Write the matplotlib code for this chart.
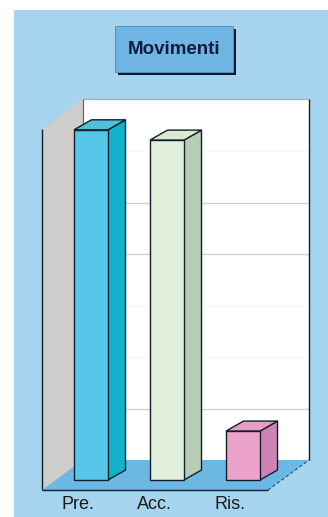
import matplotlib
matplotlib.use("Agg")
import matplotlib.pyplot as plt
from matplotlib.patches import Polygon, Rectangle
from matplotlib.transforms import ScaledTranslation

categories = ["Pre.", "Acc.", "Ris."]
values = [6.8, 6.6, 0.95]
front_colors = ["#55c5e8", "#e2efdc", "#eba3c9"]
side_colors = ["#10b2cc", "#b7cdb4", "#cf82b4"]
top_colors = ["#4fbfd8", "#dce8d2", "#ea9cc6"]
strong_grid = [1, 4, 5]
faint_grid = [2, 3, 6]
wall_top = 7

W, H = 328, 517
plt.rcParams["font.family"] = ["Liberation Sans", "DejaVu Sans"]
fig = plt.figure(figsize=(W / 100, H / 100), dpi=100, facecolor="white")

def fx(p): return p / W
def fy(p): return 1 - p / H

fig.add_artist(Rectangle((fx(14), 0), 1 - fx(14), fy(10), transform=fig.transFigure,
                         facecolor="#a6d3ee", edgecolor="none", zorder=-5))
# title box
fig.add_artist(Rectangle((fx(118), fy(75)), 118 / W, 46 / H, transform=fig.transFigure,
                         facecolor="#0b1a30", edgecolor="none", zorder=1))
fig.add_artist(Rectangle((fx(115), fy(72)), 118 / W, 46 / H, transform=fig.transFigure,
                         facecolor="#6fb5e3", edgecolor="#5a8fb8", lw=0.7, zorder=2))
fig.text(fx(174.5), fy(50), "Movimenti", ha="center", va="center", fontsize=13.5,
         fontweight="bold", color="#101c3c", zorder=3)

# axes: floor front edge, px 42..268 wide, value 0 at y=490, one unit = 51.5 px
PXU_X, PXU_Y = 76.0, 51.5
left, right, bottom, top = 42, 268, 490, 130
ax = fig.add_axes([fx(left), fy(bottom), (right - left) / W, (bottom - top) / H])
ax.set_xlim((left - 91) / PXU_X, (right - 91) / PXU_X)
ax.set_ylim(0, (bottom - top) / PXU_Y)
ax.patch.set_visible(False)
for s in ax.spines.values():
    s.set_visible(False)
ax.set_yticks([])
ax.set_xticks(range(len(categories)))
ax.set_xticklabels(categories, fontsize=13, color="#1a1a1a")
ax.tick_params(axis="x", length=0, pad=4.5)
shift = ScaledTranslation(-13 / 100, 0, fig.dpi_scale_trans)
for lab in ax.get_xticklabels():
    lab.set_transform(lab.get_transform() + shift)

x0, x1 = ax.get_xlim()
DX, DY = 41 / PXU_X, 30 / PXU_Y   # floor depth
BX, BY = 17.5 / PXU_X, 10 / PXU_Y  # bar depth
BASE = 10 / PXU_Y                  # bar base above floor front
HALF = 17 / PXU_X
DARK = "#12202c"

def poly(pts, fc, ec="none", lw=0.0, z=2):
    ax.add_patch(Polygon(pts, closed=True, facecolor=fc, edgecolor=ec, lw=lw,
                         zorder=z, clip_on=False, joinstyle="miter"))

def line(xs, ys, c=DARK, lw=1.0, ls="-", z=3):
    ax.plot(xs, ys, color=c, lw=lw, ls=ls, zorder=z, clip_on=False, solid_capstyle="butt")

# back wall
poly([(x0 + DX, DY), (x1 + DX, DY), (x1 + DX, DY + wall_top), (x0 + DX, DY + wall_top)], "white", z=1)
for g in faint_grid:
    line([x0 + DX, x1 + DX], [DY + g, DY + g], c="#f6f6f3", lw=0.8, z=1.2)
for g in strong_grid:
    line([x0 + DX, x1 + DX], [DY + g, DY + g], c="#d2d2cd", lw=1.0, z=1.2)
line([x0 + DX, x1 + DX], [DY + wall_top] * 2, c="#a9b4b8", lw=1.0, z=1.3)
# left wall
poly([(x0, 0), (x0 + DX, DY), (x0 + DX, DY + wall_top), (x0, wall_top)], "#cfcdcb", z=1.5)
# floor
poly([(x0, 0), (x1, 0), (x1 + DX, DY), (x0 + DX, DY)], "#6db7e4", z=1.6)
# wall and floor edges
line([x0, x0], [0, wall_top], lw=1.0)
line([x0 + DX, x0 + DX], [DY + 6.4, DY + wall_top], c="#5a5f62", lw=0.8, z=1.7)
line([x1 + DX, x1 + DX], [DY, DY + wall_top], lw=1.0)
line([x0, x1], [0, 0], lw=1.0)
line([x1, x1 + DX], [0, DY], lw=0.8, ls=(0, (3, 2)), c="#24507a")

# bars
for i, v in enumerate(values):
    l, r = i - HALF, i + HALF
    b, t = BASE, BASE + v
    poly([(r, b), (r + BX, b + BY), (r + BX, t + BY), (r, t)], side_colors[i], DARK, 1.0, z=4)
    poly([(l, t), (r, t), (r + BX, t + BY), (l + BX, t + BY)], top_colors[i], DARK, 1.0, z=4)
    poly([(l, b), (r, b), (r, t), (l, t)], front_colors[i], DARK, 1.0, z=5)

fig.savefig("out.png", dpi=100, facecolor="white")
